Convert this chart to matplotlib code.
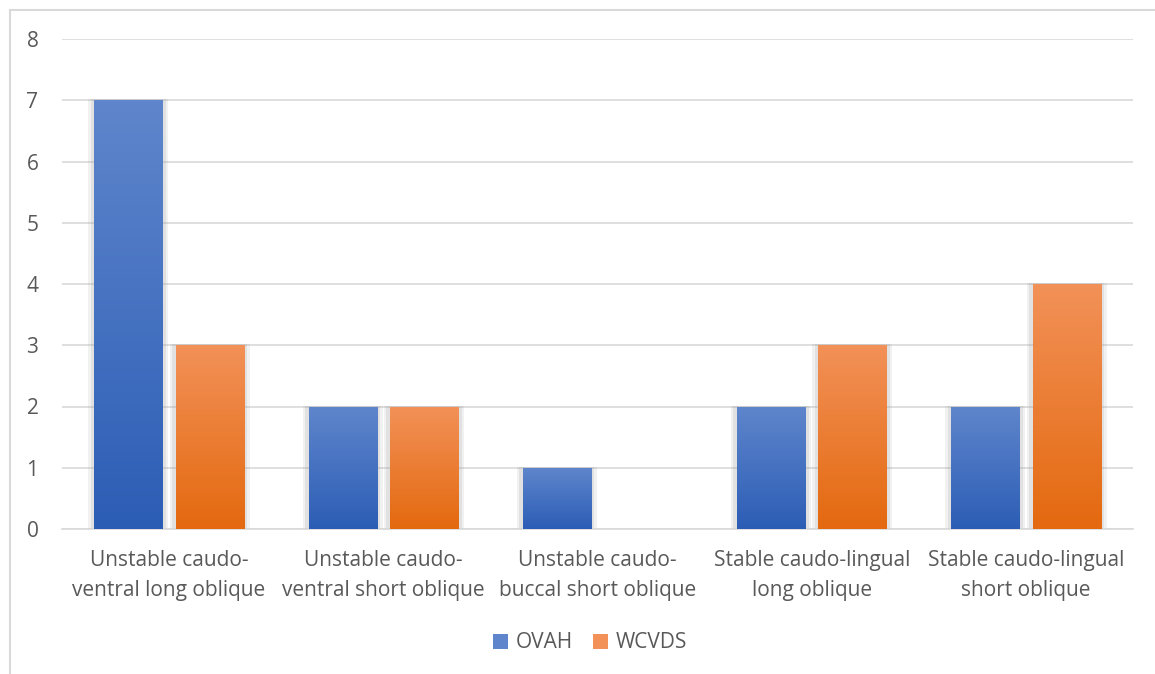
import numpy as np
import matplotlib
matplotlib.use("Agg")
import matplotlib.pyplot as plt
from matplotlib.patches import Rectangle
from matplotlib.colors import LinearSegmentedColormap

categories = [
    "Unstable caudo-\nventral long oblique",
    "Unstable caudo-\nventral short oblique",
    "Unstable caudo-\nbuccal short oblique",
    "Stable caudo-lingual\nlong oblique",
    "Stable caudo-lingual\nshort oblique",
]
series_names = ["OVAH", "WCVDS"]
ovah = [7, 2, 1, 2, 2]
wcvds = [3, 2, 0, 3, 4]
y_ticks = [0, 1, 2, 3, 4, 5, 6, 7, 8]

plt.rcParams["font.family"] = ["Open Sans", "DejaVu Sans"]
text_color = "#595959"
grid_color = "#d9d9d9"
fs = 15

# top (light) -> bottom (dark) gradients for each series
gradients = [
    ("#5f86cc", "#2c5db5"),
    ("#f29158", "#e4690f"),
]

W, H = 1155, 674
fig = plt.figure(figsize=(W / 100, H / 100), dpi=100)
ax = fig.add_axes([62 / W, 1 - 529 / H, (1133 - 62) / W, (529 - 39) / H])

# chart-area frame
fig.patches.append(Rectangle((10 / W, -0.05), 1.2, 1 - 10 / H + 0.05,
                             transform=fig.transFigure, fill=False,
                             edgecolor=grid_color, linewidth=1.5, zorder=0))

x = np.arange(len(categories))
width = 0.318
offsets = [-0.19, 0.19]

grad = np.linspace(1, 0, 256).reshape(-1, 1)
sx = 3 / 214.2  # horizontal shadow spread in data units
sy = 3 / 61.25  # vertical shadow spread in data units

for values, off, name, (c_top, c_bot) in zip([ovah, wcvds], offsets, series_names, gradients):
    cmap = LinearSegmentedColormap.from_list(name, [c_bot, c_top])
    bars = ax.bar(x + off, values, width, color=c_top, label=name, zorder=3,
                  linewidth=0)
    for b in bars:
        h = b.get_height()
        if h <= 0:
            continue
        x0 = b.get_x()
        w = b.get_width()
        # soft shadow behind the bar
        for k, a in [(2.0, 0.3), (1.2, 0.4)]:
            ax.add_patch(Rectangle((x0 - sx * k, 0 - sy * 0.6), w + 2 * sx * k, h + sy * 0.6 + sy * 0.3,
                                   facecolor="#9a9a9a", alpha=a * 0.45, linewidth=0, zorder=2))
        im = ax.imshow(grad, cmap=cmap, aspect="auto", extent=(x0, x0 + w, 0, h),
                       zorder=3.5, interpolation="bilinear")
        im.set_clip_path(b)

ax.set_xlim(-0.5, len(categories) - 0.5)
ax.set_ylim(0, 8)

ax.set_yticks(y_ticks)
ax.set_yticklabels([str(t) for t in y_ticks])
ax.set_xticks(x)
ax.set_xticklabels(categories, linespacing=1.55)
ax.tick_params(axis="both", length=0, colors=text_color, labelsize=fs)
ax.tick_params(axis="y", pad=17)
ax.tick_params(axis="x", pad=15)

ax.yaxis.grid(True, color=grid_color, linewidth=1.2, zorder=0)
ax.set_axisbelow(True)
for s in ["top", "right", "left"]:
    ax.spines[s].set_visible(False)
ax.spines["bottom"].set_color(grid_color)
ax.spines["bottom"].set_linewidth(1.2)

handles = [Rectangle((0, 0), 1, 1, facecolor=c[0]) for c in gradients]
leg = fig.legend(handles, series_names, loc="center", bbox_to_anchor=(590 / W, 1 - 643 / H),
                 ncol=2, frameon=False, fontsize=fs, handlelength=0.7, handleheight=0.7,
                 handletextpad=0.35, columnspacing=1.0)
for t in leg.get_texts():
    t.set_color(text_color)

fig.savefig("out.png", dpi=100, facecolor="white")
